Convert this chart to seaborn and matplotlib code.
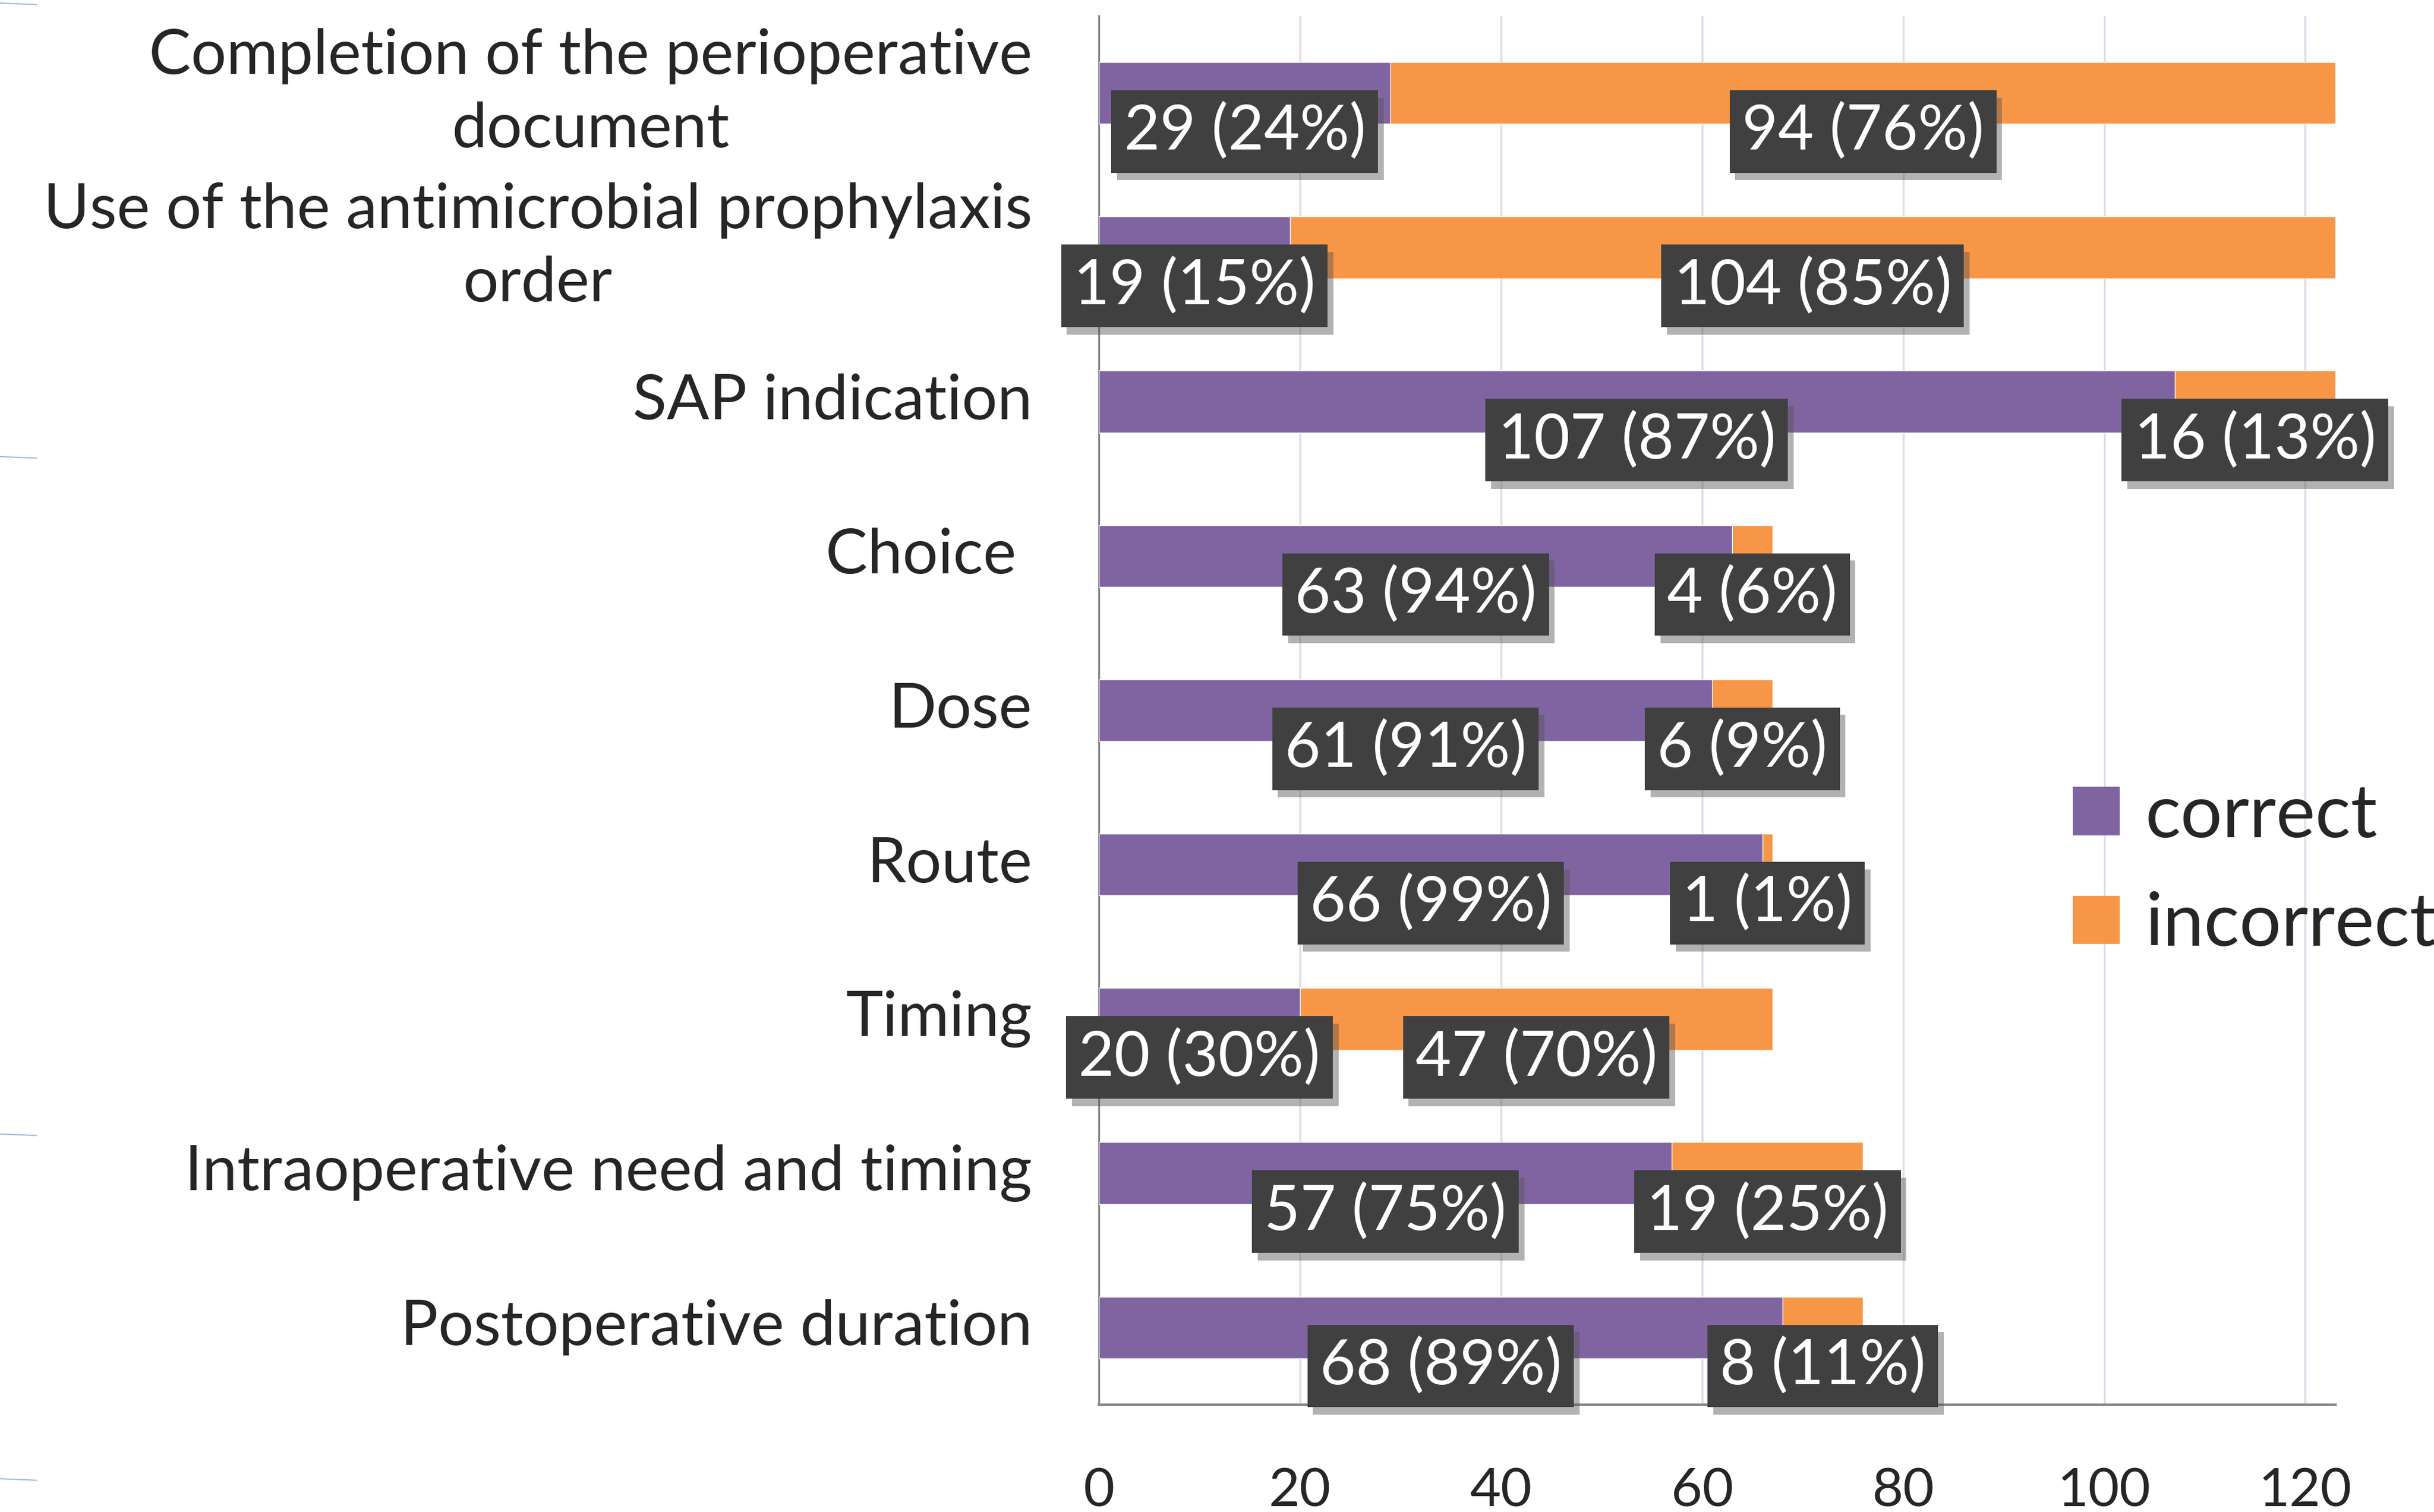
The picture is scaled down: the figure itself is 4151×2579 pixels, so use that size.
import matplotlib
matplotlib.use("Agg")
import matplotlib.pyplot as plt
import matplotlib.patheffects as pe
from matplotlib.lines import Line2D
from matplotlib.patches import Patch
import numpy as np
import pandas as pd
import seaborn as sns

# data
categories = ["Completion of the perioperative\ndocument",
              "Use of the antimicrobial prophylaxis\norder",
              "SAP indication",
              "Choice ",
              "Dose",
              "Route",
              "Timing",
              "Intraoperative need and timing",
              "Postoperative duration"]
correct = [29, 19, 107, 63, 61, 66, 20, 57, 68]
incorrect = [94, 104, 16, 4, 6, 1, 47, 19, 8]
correct_pct = [24, 15, 87, 94, 91, 99, 30, 75, 89]
incorrect_pct = [76, 85, 13, 6, 9, 1, 70, 25, 11]
x_ticks = [0, 20, 40, 60, 80, 100, 120]

PURPLE = "#8064A2"
ORANGE = "#F79646"
BOX = "#404040"
GRID = "#E0DBEA"
AXIS = "#868686"

sns.set_style("white")
plt.rcParams["font.family"] = ["Lato", "DejaVu Sans"]

df = pd.DataFrame({"category": categories, "correct": correct, "incorrect": incorrect})
df["total"] = df["correct"] + df["incorrect"]

fig = plt.figure(figsize=(41.51, 25.79), dpi=100)
ax = fig.add_axes([0.4515, 0.071, 0.508, 0.9185])

# stacked bars: total in orange, correct on top in purple
sns.barplot(data=df, x="total", y="category", color=ORANGE, saturation=1,
            width=0.4, orient="h", ax=ax, zorder=2)
sns.barplot(data=df, x="correct", y="category", color=PURPLE, saturation=1,
            width=0.4, orient="h", ax=ax, zorder=3)

ax.set_xlim(0, 123)
ax.set_ylim(len(categories) - 0.5, -0.5)
ax.set_xlabel("")
ax.set_ylabel("")

ax.set_xticks(x_ticks)
ax.set_xticklabels([str(v) for v in x_ticks], fontsize=66)
ax.tick_params(axis="x", length=29, width=2.2, color=AXIS, pad=48)
ax.grid(axis="x", color=GRID, linewidth=2.5, zorder=0)
ax.set_axisbelow(True)

ax.set_yticks(range(len(categories)))
ax.set_yticklabels(categories, fontsize=77)
ax.tick_params(axis="y", which="major", length=0, pad=82)
ax.set_yticks(np.arange(-0.5, len(categories)), minor=True)
ax.tick_params(axis="y", which="minor", length=26, width=2.2, color=AXIS)
for t in ax.get_yticklabels():
    t.set_multialignment("center")
    t.set_linespacing(1.37)
    t.set_verticalalignment("center")

for side in ["top", "right"]:
    ax.spines[side].set_visible(False)
ax.spines["left"].set_color(AXIS)
ax.spines["left"].set_linewidth(2.2)
ax.spines["bottom"].set_color(AXIS)
ax.spines["bottom"].set_linewidth(3)

# value labels in dark boxes
shadow = [pe.SimplePatchShadow(offset=(7, -9), shadow_rgbFace="#555555", alpha=0.45), pe.Normal()]
for i in range(len(categories)):
    segs = [(correct[i] / 2, f"{correct[i]} ({correct_pct[i]}%)"),
            (correct[i] + incorrect[i] / 2, f"{incorrect[i]} ({incorrect_pct[i]}%)")]
    for xc, txt in segs:
        t = ax.text(xc, i + 0.25, txt, ha="center", va="center", color="white",
                    fontsize=76, zorder=5,
                    bbox=dict(boxstyle="square,pad=0.2", facecolor=BOX, edgecolor="none"))
        t.get_bbox_patch().set_path_effects(shadow)

handles = [Patch(facecolor=PURPLE, edgecolor="none", label="correct"),
           Patch(facecolor=ORANGE, edgecolor="none", label="incorrect")]
fig.legend(handles=handles, loc="upper left", bbox_to_anchor=(0.8516, 0.4825),
           frameon=False, fontsize=91, handlelength=0.63, handleheight=0.63,
           handletextpad=0.35, labelspacing=0.56, borderpad=0, borderaxespad=0)

# faint marks on the left page edge
for yy in [0.998, 0.698, 0.250, 0.022]:
    fig.add_artist(Line2D([0, 0.015], [yy, yy - 0.001], color="#5b8bd6",
                          linewidth=1.5, alpha=0.6, transform=fig.transFigure))

fig.savefig("out.png", dpi=100)
